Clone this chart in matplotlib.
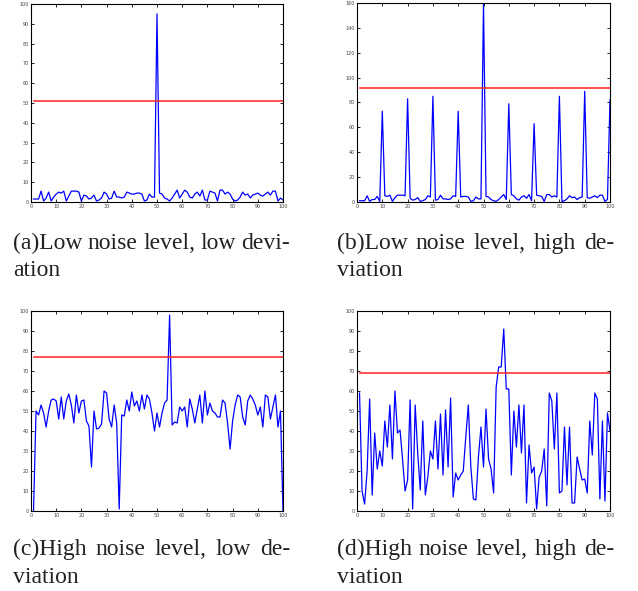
import matplotlib
matplotlib.use("Agg")
import matplotlib.pyplot as plt
import numpy as np

x = list(range(1, 101))

# (a) Low noise level, low deviation
a_vals = [1.5, 1.5, 1.5, 5.5, 0.5, 2, 5, 0.5, 2.5, 4,
          5, 4.5, 5.5, 0.5, 3, 5.5, 5.5, 5.5, 5, 0.5,
          3.5, 3, 1.5, 2, 3.5, 0.5, 1, 2, 5, 4,
          1.5, 2, 5.5, 2.5, 2.5, 2, 2.5, 5, 4.5, 4,
          4, 4.5, 4.5, 4, 0.5, 1, 4, 2.5, 2.5, 95,
          4.5, 4, 2, 1.5, 0.5, 2, 4, 6, 2, 4,
          6, 5, 2.5, 2, 4, 5, 3, 6, 1, 1,
          5.5, 5, 4.5, 0.5, 6, 6, 4, 5, 4, 1.5,
          0.5, 1, 2.5, 5, 3.5, 4, 2, 3.5, 4, 4.5,
          3.5, 3, 4, 5, 3.5, 5.5, 5.5, 0.5, 2, 1]
a_thresh = 51

# (b) Low noise level, high deviation
b_vals = [1, 1, 1, 5, 0.5, 2, 2, 4.5, 0.5, 73,
          5, 4.5, 5.5, 0.5, 3.5, 5.5, 5.5, 5.5, 5, 83,
          3, 1.5, 2, 3.5, 0.5, 1, 2, 5, 4, 85,
          1.5, 2, 5.5, 2.5, 2.5, 2, 2.5, 5, 4.5, 73,
          4, 4.5, 4.5, 4, 0.5, 1, 4, 2.5, 2.5, 160,
          4.5, 4, 2, 1, 0.5, 2, 4, 6, 2, 79,
          6, 5, 2.5, 1.5, 4, 5, 3, 6, 1, 63,
          5.5, 5, 4.5, 0.5, 6, 6, 4, 5, 4, 85,
          0.5, 1, 2.5, 5, 3.5, 4, 2, 3.5, 4, 89,
          3.5, 3, 4, 5, 3.5, 5.5, 5.5, 0.5, 2, 82]
b_thresh = 92

# (c) High noise level, low deviation
c_vals = [0, 50, 48, 53, 49, 42, 50, 55.5, 56, 55,
          46, 57, 46, 55, 58.5, 53, 44, 58, 49, 55,
          55.5, 45, 42.5, 22, 50, 41, 41.5, 43.5, 60, 59,
          46, 42, 53, 44, 1, 48, 47.5, 55.5, 50, 59.5,
          52.5, 55, 50, 58, 51, 58, 56, 49, 40, 49,
          42, 49, 54, 55.5, 98, 43, 44.5, 44, 52, 50,
          52, 42, 56, 51, 44, 51, 58, 44, 60, 48,
          54, 50, 49, 47, 47, 55.5, 54, 44, 31, 45,
          53, 58, 57, 47, 43, 55, 58, 56, 53, 48,
          52, 42, 58, 57, 46, 52, 58, 42, 50, 0]
c_thresh = 77

# (d) High noise level, high deviation
d_vals = [59, 10, 3.5, 20, 56, 8, 39, 21, 30, 22.5,
          45, 32, 53, 26, 60, 39, 40.5, 26, 10, 15.5,
          55.5, 1, 53, 29, 10.5, 45, 8, 17, 30, 26,
          45, 21, 48.5, 18, 50.5, 22, 56.5, 7, 19, 15.5,
          18, 20, 37, 53, 22, 6, 5.5, 27, 42, 22,
          51, 26, 21, 9, 62, 72, 72, 91, 61, 61,
          18, 50, 32, 53, 29, 53, 4, 33, 19, 22,
          1, 17, 20, 31, 2.5, 59, 55, 31, 59, 9,
          10, 42, 13, 42, 4, 4, 27, 21, 15.5, 16,
          9, 45, 28, 59, 56, 6, 45, 5, 49, 40]
d_thresh = 69

panels = [
    (a_vals, a_thresh, 100, 10, ["(a)Low noise level, low devi-", "ation"]),
    (b_vals, b_thresh, 160, 20, ["(b)Low noise level, high de-", "viation"]),
    (c_vals, c_thresh, 100, 10, ["(c)High noise level, low de-", "viation"]),
    (d_vals, d_thresh, 100, 10, ["(d)High noise level, high de-", "viation"]),
]

W, H = 638, 591
fig = plt.figure(figsize=(W / 100, H / 100), dpi=100)
fig.patch.set_facecolor("white")
renderer = fig.canvas.get_renderer()

# pixel boxes: left, top, right, bottom
boxes = [(31, 4, 283, 202), (357, 3, 610, 202), (31, 311, 283, 511), (357, 311, 610, 511)]
# caption: left x, right x (justified line), line1 baseline y, line2 baseline y
cap_pos = [(13, 290, 249, 276), (337, 614, 249, 276), (13, 290, 555, 583), (337, 614, 555, 583)]
cap_style = dict(family="Liberation Serif", fontsize=17, va="baseline", ha="left", color="#222222")


def justified(line, x0, x1, y):
    words = line.split(" ")
    texts = [fig.text(0, 1 - y / H, w, **cap_style) for w in words]
    widths = [t.get_window_extent(renderer).width for t in texts]
    gap = (x1 - x0 - sum(widths)) / (len(words) - 1)
    pos = x0
    for t, w in zip(texts, widths):
        t.set_x(pos / W)
        pos += w + gap


for (vals, th, ymax, ystep, cap), (l, t, r, b), (cx0, cx1, cy1, cy2) in zip(panels, boxes, cap_pos):
    ax = fig.add_axes([l / W, 1 - b / H, (r - l) / W, (b - t) / H])
    ax.plot(x, vals, color="#0000ff", lw=0.9)
    ax.plot([x[0], x[-1]], [th, th], color="#ff2020", lw=1.1)
    ax.set_xlim(0, 100)
    ax.set_ylim(0, ymax)
    ax.set_xticks(np.arange(0, 101, 10))
    ax.set_yticks(np.arange(0, ymax + 1, ystep))
    ax.tick_params(direction="in", length=2, width=0.6, labelsize=3.5,
                   labelcolor="#444444", top=True, right=True, pad=1.5)
    for s in ax.spines.values():
        s.set_linewidth(0.8)
    justified(cap[0], cx0, cx1, cy1)
    fig.text(cx0 / W, 1 - cy2 / H, cap[1], **cap_style)

fig.savefig("out.png", dpi=100)
